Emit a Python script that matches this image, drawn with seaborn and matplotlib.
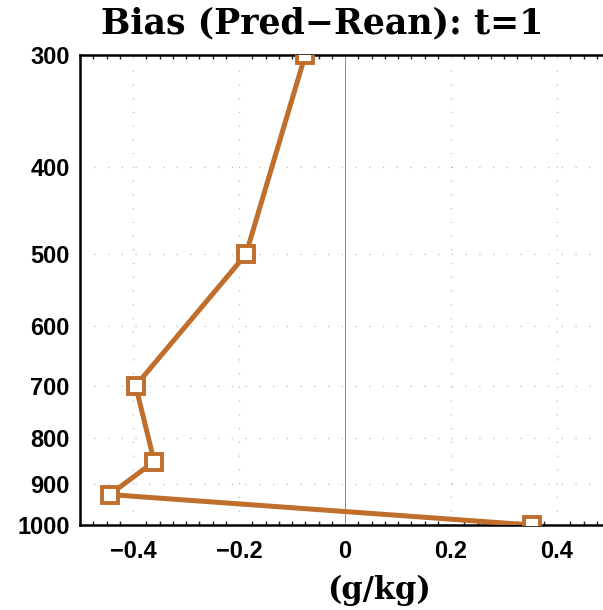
import matplotlib
matplotlib.use("Agg")
import matplotlib.pyplot as plt
import matplotlib.ticker as mticker
import seaborn as sns
import numpy as np

# pressure levels (hPa) and bias values (g/kg)
pressure = [300, 500, 700, 850, 925, 1000]
bias = [-0.075, -0.187, -0.395, -0.360, -0.444, 0.352]
xticks = [-0.4, -0.2, 0, 0.2, 0.4]
xtick_labels = ["\u22120.4", "\u22120.2", "0", "0.2", "0.4"]
yticks = [300, 400, 500, 600, 700, 800, 900, 1000]

sns.set_style("white")
plt.rcParams['font.family'] = ['Liberation Sans', 'DejaVu Sans']
plt.rcParams['text.color'] = "black"

fig = plt.figure(figsize=(6.03, 6.10), dpi=100)
# right spine sits just past the image edge, as in the reference
ax = fig.add_axes([80/603, 1 - 525/610, 530/603, 470/610])

line_color = "#BF6E2C"
sns.lineplot(x=bias, y=pressure, sort=False, estimator=None, ax=ax,
             color=line_color, linewidth=3.6, marker="s", markersize=11,
             markerfacecolor="white", markeredgecolor=line_color,
             markeredgewidth=2.8, zorder=5)

ax.set_yscale("log")
ax.set_ylim(1000, 300)
ax.set_xlim(-0.5, 0.5)

ax.yaxis.set_major_locator(mticker.FixedLocator(yticks))
ax.yaxis.set_minor_locator(mticker.NullLocator())
ax.yaxis.set_major_formatter(mticker.FixedFormatter([str(v) for v in yticks]))
ax.set_xticks(xticks)
ax.set_xticklabels(xtick_labels)
ax.xaxis.set_minor_locator(mticker.MultipleLocator(0.025))

# dotted grid + zero line
for x in xticks:
    if x != 0:
        ax.axvline(x, color="#bbbbbb", linewidth=0.9, linestyle=(0, (1, 10)), zorder=1)
for y in yticks[1:-1]:
    ax.axhline(y, color="#bbbbbb", linewidth=0.9, linestyle=(0, (1, 10)), zorder=1)
ax.axvline(0, color="#888888", linewidth=0.7, zorder=1)

for side in ["left", "bottom", "top", "right"]:
    ax.spines[side].set_linewidth(1.8)
    ax.spines[side].set_color("black")

ax.tick_params(axis="both", which="major", labelsize=17, width=1.8, length=7,
               direction="out", colors="black")
ax.tick_params(axis="x", which="minor", direction="in", length=3, width=1,
               top=True, bottom=True)
ax.tick_params(axis="y", which="major", direction="inout", length=9, pad=3)
ax.tick_params(axis="x", which="major", pad=4)
for lab in ax.get_xticklabels() + ax.get_yticklabels():
    lab.set_fontweight("bold")

fig.text(322/603, 1 - 23/610, "Bias (Pred\u2212Rean): t=1", ha="center", va="center",
         fontsize=25, fontweight="bold", family="DejaVu Serif", color="black")
ax.set_xlabel("(g/kg)", fontsize=22, fontweight="bold", family="DejaVu Serif",
              color="black")
ax.xaxis.set_label_coords((379 - 80) / 530, -0.105)
ax.set_ylabel("")

fig.savefig("out.png", dpi=100)
